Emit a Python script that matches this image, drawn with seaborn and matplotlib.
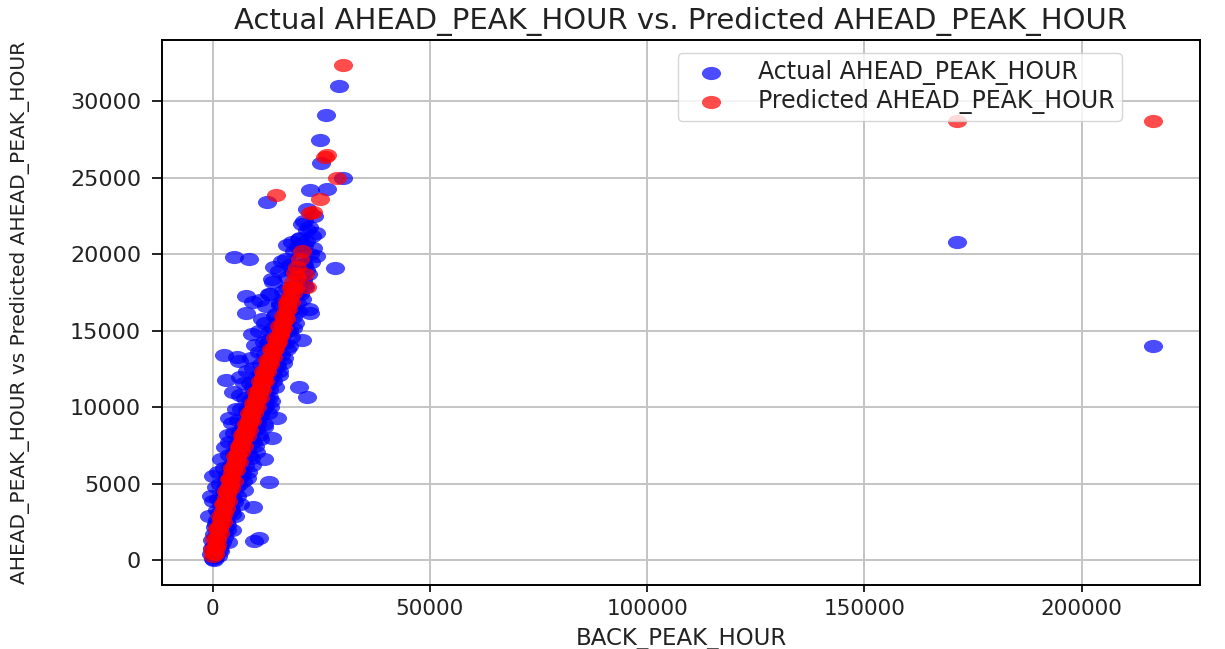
import matplotlib
matplotlib.use("Agg")
import matplotlib.pyplot as plt
from matplotlib.path import Path
from matplotlib.transforms import Affine2D
import seaborn as sns

# ---------------- data ----------------
actual_back = [
    0, 300, 600, -300, 1200, 1500, 200, 2200, 800, 2600, 500, 3000, 1600, 3600, 900, 2200,
    4000, 9200, 1300, 4500, -400, 2800, 5200, 0, 1800, 12900, 5800, 3400, 9500, 10700,
    1800, -200, 3300, 1000, 4400, 1900, 5600, 3000, 7000, 4600, 8200, 5400, 8800, 7000,
    9800, 8400, 10600, 9400, 11800, 7800, 11200, 13200, 9800, 12400, 10600, 14600, 13400,
    16000, 12800, 17000, 15000, 18800, 16200, 18600, 21000,
    6300, 2600, 4400, 7000, 3800, 11800, 5400, 7800, 3800, 6400, 13700, 8600, 5000, 9400,
    7000, 10200, 3800, 5800, 14900, 8200, 11000, 6600, 12000, 9000,
    7400, 13000, 4600, 21700, 19800, 10200, 3000, 8600, 14000, 6200, 11000, 15200, 9200,
    12600, 6100, 2700, 5700, 16400, 10600, 14000, 17600, 11800, 20600, 15600, 9000, 13200,
    18600, 12000, 16600, 7600, 22500, 14400, 18000, 9200, 11000, 15600, 22100, 7600, 13000,
    19400, 17200, 13700, 20400, 14100, 18300, 21000, 5000, 8400, 23700, 16800, 19600,
    28100, 18300, 21800, 20200, 21000, 22300, 26300, 12600, 24700, 26100, 29000, 25000,
    30100, 171300, 216400,
    -200, 1600, 300, 2700, 800, 3400, 1500, 4200, 2100, 5000, 2600, 5800, 3300, 6600,
    4000, 7400, 4800, 8300, 5500, 9200, 6300, 9900, 7100, 10600, 7900, 11500, 8600, 12300,
    9300, 13000, 10200, 13900, 11200, 14800, 12000, 15700, 12900, 16700, 13800, 17600,
    14600, 18500, 15500, 19300, 16300, 20100, 17000, 20800, 17900, 21600, 18800, 22300,
    19800, 22800, 20600, 23400, 21800,
    -800, 0, 700, 1300, 2000, 2800, 3600, 4400, 5300, 6200, 7100, 8000, 8900, 9700, 10600,
    11400, 12300, 13200, 14000, 15200, 16000, 17200,
    3600, 4400, 5200, 6200, 7100, 8000, 9000, 9900, 10900, 11800, 12700, 13500, 14400,
    15300, 16200, 17100, 18000, 18900, 19700, 20500, 21300, 22000, 22600, 23200, 23900,
    2700, 4600, 6700, 8900, 10900, 12800, 14500, 16600, 18200, 19600, 20800, 21400, 22100,
    21000, 19900,
]
actual_ahead = [
    100, 0, 200, 400, 300, 700, 900, 1200, 1600, 1900, 2200, 2500, 2800, 3000, 3300, 3600,
    3500, 3500, 4000, 4100, 4200, 4400, 4700, 5500, 5000, 5100, 5300, 5600, 1250, 1450,
    1000, 1300, 2000, 2600, 3000, 3900, 4200, 4900, 5200, 5600, 5800, 6800, 6700, 7600,
    7500, 8200, 8200, 9100, 8900, 9800, 10400, 10000, 11000, 11400, 11800, 12800, 12200,
    14200, 14200, 15000, 15600, 16400, 17000, 17600, 18000,
    5900, 6000, 6300, 6600, 6900, 6600, 7100, 7300, 7700, 7800, 8000, 8000, 8300, 8500,
    8700, 8900, 9300, 9200, 9300, 9600, 9500, 9900, 10100, 10300,
    10600, 10700, 11000, 10700, 11300, 11200, 11800, 11600, 11700, 12000, 12200, 12400, 12600,
    13000, 13000, 13400, 13300, 13200, 13600, 13900, 14000, 14300, 14400, 14700, 14800, 15000,
    15200, 15500, 15600, 16200, 16200, 16000, 16400, 16900, 17000, 16700, 16400, 17300, 17400,
    17500, 17800, 18400, 18200, 19200, 18900, 19300, 19800, 19700, 19900, 19700, 20500,
    19100, 20800, 21600, 21100, 22200, 24200, 24300, 23400, 27500, 29100, 31000, 26000,
    25000, 20800, 14000,
    800, 600, 1700, 1500, 2400, 2300, 3100, 3300, 4000, 3800, 4600, 4900, 5300, 5500,
    6100, 6200, 7000, 6900, 7600, 7700, 8400, 8600, 9100, 9300, 9800, 9900, 10500, 10600,
    11300, 11200, 12000, 12100, 12800, 12700, 13500, 13400, 14400, 14200, 15200, 15000,
    16100, 15900, 16800, 16800, 17600, 17400, 18500, 18300, 19300, 19000, 20200, 20000,
    21000, 21200, 22000, 22500, 23000,
    2900, 3900, 4800, 5800, 6600, 7400, 8200, 9000, 9900, 10800, 11600, 12400, 13200, 14100,
    15000, 15800, 16600, 17400, 18200, 18900, 19600, 20600,
    1200, 2000, 2900, 3700, 4600, 5400, 6200, 7100, 7900, 8700, 9600, 10400, 11300,
    12100, 12900, 13800, 14600, 15500, 16300, 17100, 17900, 18700, 19500, 20400, 21400,
    2100, 4000, 5700, 7900, 9700, 11700, 13300, 15300, 16500, 17900, 19400, 20900, 21800,
    20600, 19800,
]

pred_back = [
    100, 300, 500, 700, 900, 1100, 1300, 1500, 1700, 1900, 2100, 2300, 2500, 2700, 2900,
    3100, 3300, 3500, 3700, 3900, 4100, 4300, 4500, 4700, 4900, 5100, 5300, 5500, 5700,
    5900, 6100, 6300, 6500, 6700, 6900, 7100, 7300, 7500, 7700, 7900, 8100, 8300, 8500,
    8700, 8900, 9100, 9300, 9500, 9700, 9900, 10100, 10300, 10500, 10700, 10900, 11100,
    11300, 11500, 11700, 11900, 12100, 12400, 12700, 13000, 13300, 13600, 13900, 14200,
    14500, 14800, 15100, 15400, 15700, 16000, 16300, 16600, 16900, 17200, 17500, 17800,
    18200, 18600, 19000, 19500, 20000, 20600, 21300, 21700, 22400, 23000, 24600, 14600,
    25800, 26300, 28600, 29900, 171300, 216400,
    600, 1000, 1800, 2400, 3000, 3600, 4200, 4800, 5400, 6000, 6600, 7200, 7800, 8400,
    9000, 9600, 10200, 10800, 11400, 12000, 12600, 13200, 13800, 14400, 15000, 15600,
    16200, 16800, 17400, 18000, 18400, 18900, 19400,
    -200, 400, 1000, 1700, 2300, 3000, 3700, 4400, 5200, 6000, 6800, 7600, 8400, 9200,
    10000, 10800, 11600, 12500, 13400, 14300, 15200, 16100, 17000, 18000,
]
pred_ahead = [
    300, 500, 900, 800, 1300, 1500, 1900, 2100, 2300, 2600, 2800, 3200, 3100, 3600, 3800,
    4100, 4300, 4500, 4800, 4900, 5300, 5400, 5700, 5900, 6100, 6300, 6500, 6600, 6900,
    7000, 7300, 7400, 7600, 7800, 8000, 8100, 8300, 8400, 8600, 8700, 8900, 9100, 9200,
    9400, 9500, 9800, 9900, 10100, 10200, 10400, 10600, 10700, 10900, 11100, 11200, 11400,
    11600, 11800, 11900, 12200, 12300, 12600, 12800, 13000, 13200, 13500, 13700, 13900,
    14100, 14300, 14500, 14800, 15000, 15300, 15600, 15900, 16300, 16700, 17000, 17300,
    17900, 18200, 18800, 19200, 19700, 20200, 18700, 17900, 22700, 22800, 23600, 23900,
    26400, 26500, 25000, 32400, 28700, 28700,
    400, 1000, 1800, 2500, 3400, 3900, 4700, 5200, 5900, 6400, 7100, 7500, 8100, 8500,
    9100, 9600, 10000, 10600, 11100, 11700, 12300, 12800, 13300, 13800, 14300, 14700,
    15200, 15800, 16400, 16900, 17500, 17800, 18500,
    700, 1400, 2100, 2900, 3700, 4500, 5300, 6000, 6800, 7500, 8200, 8900, 9600, 10300,
    11000, 11700, 12400, 13100, 13800, 14500, 15300, 16000, 16900, 17800,
]

title = "Actual AHEAD_PEAK_HOUR vs. Predicted AHEAD_PEAK_HOUR"
xlabel = "BACK_PEAK_HOUR"
ylabel = "AHEAD_PEAK_HOUR vs Predicted AHEAD_PEAK_HOUR"
label_actual = "Actual AHEAD_PEAK_HOUR"
label_pred = "Predicted AHEAD_PEAK_HOUR"
xticks = [0, 50000, 100000, 150000, 200000]
yticks = [0, 5000, 10000, 15000, 20000, 25000, 30000]

# ---------------- plot ----------------
fig = plt.figure(figsize=(12.25, 6.49), dpi=100)
ax = fig.add_axes([162 / 1225, 1 - 585 / 649, (1200 - 162) / 1225, (585 - 40) / 649])

ellipse = Path.unit_circle().transformed(Affine2D().scale(1.45, 1.0))

sns.scatterplot(x=actual_back, y=actual_ahead, ax=ax, color="blue", alpha=0.7,
                marker=ellipse, s=190, linewidth=0, label=label_actual)
sns.scatterplot(x=pred_back, y=pred_ahead, ax=ax, color="red", alpha=0.7,
                marker=ellipse, s=190, linewidth=0, label=label_pred)

ax.set_xticks(xticks)
ax.set_yticks(yticks)
ax.grid(True, color="#c4c4c4", linewidth=1.4)
ax.set_axisbelow(True)
for sp in ax.spines.values():
    sp.set_color("black")
    sp.set_linewidth(1.4)

for lbl in ax.get_xticklabels():
    lbl.set_fontsize(15.5)
for lbl in ax.get_yticklabels():
    lbl.set_fontsize(16)
ax.tick_params(axis="both", width=1.2, color="black", labelcolor="#222222")
ax.tick_params(axis="x", length=5, pad=5)
ax.tick_params(axis="y", length=7, pad=8)

ax.set_title(title, fontsize=21, pad=8, color="#222222")
ax.set_xlabel(xlabel, fontsize=16.5, labelpad=6, color="#222222")
ax.set_ylabel(ylabel, fontsize=14.5, labelpad=29, color="#222222")

leg = ax.legend(loc="upper right", bbox_to_anchor=(0.925, 0.976), borderaxespad=0,
                prop={"size": 17}, handlelength=2.25, handletextpad=0.87,
                labelspacing=0.15, borderpad=0.3)
for t in leg.get_texts():
    t.set_color("#222222")

fig.savefig("out.png", dpi=100)
